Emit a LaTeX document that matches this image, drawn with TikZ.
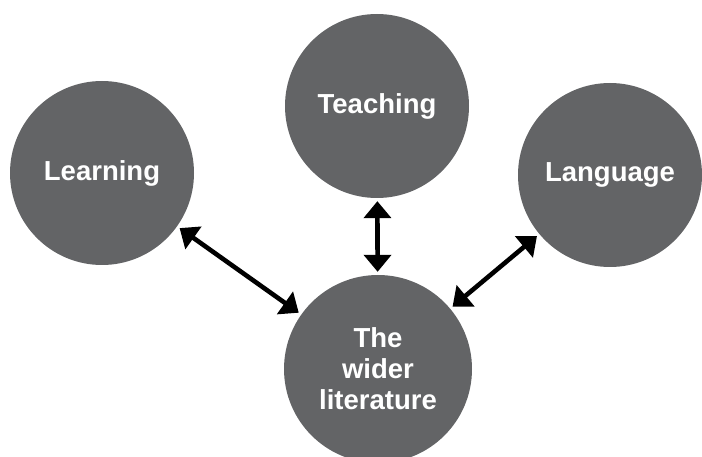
\documentclass[tikz,border=0pt]{standalone}
\usepackage{fontspec}
\setmainfont{Liberation Sans}
\usepackage{xcolor}
\usetikzlibrary{arrows.meta}
\definecolor{circlegray}{HTML}{636466}

\begin{document}
\begin{tikzpicture}[x=1pt, y=-1pt,
    topic/.style={circle, fill=circlegray, minimum size=184pt, inner sep=0pt, text=white,
        font=\fontsize{27.5}{31}\selectfont\bfseries, align=center},
    link/.style={line width=4.6pt, {Triangle[length=17pt,width=27pt]}-{Triangle[length=17pt,width=27pt]},
        shorten <=3pt, shorten >=3pt}]
    \useasboundingbox (0, 0) rectangle (702, 457);
    \node[topic] (learn) at (102, 173) {Learning};
    \node[topic] (teach) at (377, 106) {Teaching};
    \node[topic] (lang) at (610, 175) {Language};
    \node[topic, minimum size=188pt] (lit) at (378, 369) {The\\wider\\literature};
    \draw
    (learn) edge[link] (lit)
    (teach) edge[link] (lit)
    (lang) edge[link] (lit);
\end{tikzpicture}
\end{document}
